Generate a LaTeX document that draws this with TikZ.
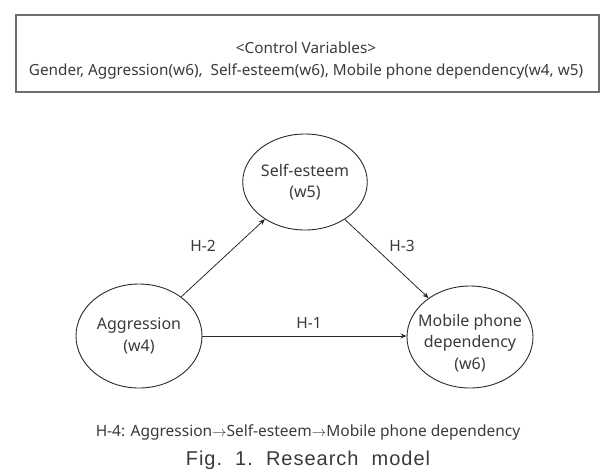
\documentclass[tikz,border=0pt]{standalone}
\usepackage{fontspec}
\setmainfont{Noto Sans}
\newfontfamily\capfont[LetterSpace=5]{Liberation Sans}
\usetikzlibrary{shapes.geometric,arrows.meta}
\definecolor{txt}{HTML}{3A3A3A}
\definecolor{ln}{HTML}{2A2A2A}
\definecolor{bx}{HTML}{6E6E6E}
\tikzset{
  var/.style={ellipse,draw=ln,line width=0.9pt,inner sep=0pt,align=center,text=txt,font=\fontsize{16}{21.5}\selectfont},
  path/.style={draw=ln,line width=0.8pt,-{Stealth[length=6pt,width=5pt]}},
  lab/.style={text=txt,font=\fontsize{15.5}{18}\selectfont},
}
\begin{document}
\begin{tikzpicture}[x=1pt,y=-1pt]
\useasboundingbox (0,0) rectangle (600,475);
\node[draw=bx,line width=1.6pt,minimum width=583pt,minimum height=77pt,inner sep=0pt,anchor=north west] (ctrl) at (15,14) {};
\node[text=txt,font=\fontsize{15.3}{18}\selectfont] (ctitle) at (306,48) {<Control Variables>};
\node[text=txt,font=\fontsize{15.3}{18}\selectfont] (clist) at (306,71) {Gender, Aggression(w6),\ \ Self-esteem(w6),\ Mobile phone dependency(w4, w5)};
\node[var,minimum width=124pt,minimum height=96pt] (se) at (305,182) {Self-esteem\\(w5)};
\node[var,minimum width=126pt,minimum height=104pt] (agg) at (139,336) {Aggression\\(w4)};
\node[var,minimum width=126pt,minimum height=102pt] (mob) at (470,337) {};
\node[text=txt,align=center,font=\fontsize{16}{21.5}\selectfont] (mobtext) at (470,343) {Mobile phone\\dependency\\(w6)};
\draw[path] (agg.east) -- (mob.west |- agg.east);
\draw[path] (agg) -- (se);
\draw[path] (se) -- (mob);
\node[lab] (h1) at (309,323) {H-1};
\node[lab] (h2) at (203,246) {H-2};
\node[lab] (h3) at (402,246) {H-3};
\node[text=txt,font=\fontsize{15.5}{18}\selectfont] (h4) at (308,432) {H-4: Aggression\(\rightarrow\)Self-esteem\(\rightarrow\)Mobile phone dependency};
\node[text=txt,font=\capfont\fontsize{20}{23}\selectfont] (cap) at (308,460) {Fig.\ \ 1.\ \ Research\ \ model};
\end{tikzpicture}
\end{document}
